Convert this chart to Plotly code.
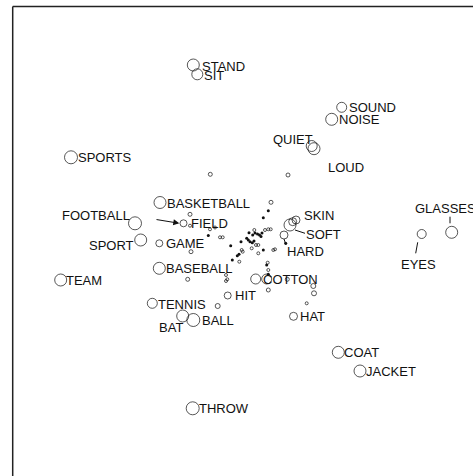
import plotly.graph_objects as go

# Labelled words: position (x, y in map units, y downward), circle weight
words   = ["STAND", "SIT", "SOUND", "NOISE", "QUIET", "LOUD", "SPORTS", "BASKETBALL",
           "FOOTBALL", "FIELD", "SPORT", "GAME", "BASEBALL", "TEAM", "TENNIS", "BAT",
           "BALL", "HIT", "COTTON", "HAT", "COAT", "JACKET", "THROW", "SKIN", "SOFT",
           "HARD", "GLASSES", "EYES"]
word_x  = [193.3, 197.3, 341.7, 331.7, 311.7, 314.0, 71.0, 160.0,
           135.0, 183.5, 140.7, 159.3, 159.3, 60.7, 152.3, 182.7,
           193.3, 227.7, 255.7, 293.5, 338.3, 360.0, 192.7, 296.0, 290.0,
           284.0, 451.7, 421.7]
word_y  = [65.0, 74.3, 107.3, 119.3, 146.0, 148.7, 157.3, 202.5,
           223.3, 223.3, 240.0, 243.3, 268.3, 280.0, 303.3, 316.0,
           320.0, 295.5, 279.0, 316.3, 352.3, 371.0, 408.3, 220.0, 225.0,
           235.0, 232.3, 234.0]
word_w  = [12, 11, 10, 12, 11, 12, 13, 12,
           13, 7, 12, 7, 12, 12, 10, 12,
           13, 7, 10, 8, 12, 12, 13, 8, 12,
           8, 12, 9]

# label placement: x, y, anchor
lab_x   = [200.5, 202.5, 347.5, 337.5, 313.5, 327.0, 76.5, 165.5,
           130.5, 189.5, 134.5, 164.5, 164.5, 64.5, 156.5, 183.5,
           201.0, 233.5, 261.5, 298.5, 342.5, 364.5, 198.0, 303.0, 305.0,
           285.5, 414.0, 418.0]
lab_y   = [66.5, 75.0, 107.5, 119.0, 139.5, 167.0, 157.3, 203.0,
           215.0, 223.3, 245.7, 243.3, 268.3, 280.0, 304.0, 327.3,
           320.0, 295.7, 279.0, 316.0, 352.0, 371.0, 408.0, 215.0, 234.0,
           251.0, 208.3, 264.0]
lab_anchor = ["left", "left", "left", "left", "right", "left", "left", "left",
              "right", "left", "right", "left", "left", "left", "left", "right",
              "left", "left", "left", "left", "left", "left", "left", "left", "left",
              "left", "left", "center"]

# other circles (unlabelled)
extra_x = [292.7, 266.7]
extra_y = [221.7, 279.0]
extra_w = [8, 10]

# small open dots
dot_x = [210.3, 288.0, 190.0, 190.0, 191.0, 187.7, 271.0, 210.0, 215.0, 220.0, 222.7,
         226.0, 227.3, 226.0, 268.3, 267.7, 313.3, 314.0, 268.3, 217.7, 306.7, 287.3,
         273.3, 275.0, 241.7, 242.7, 239.3, 251.7, 256.0, 258.3, 265.0, 268.3, 270.7,
         254.3, 258.3]
dot_y = [174.3, 175.0, 214.3, 225.7, 251.7, 279.3, 202.3, 229.3, 227.5, 237.3, 237.3,
         275.0, 279.3, 281.0, 270.0, 262.7, 286.0, 293.3, 290.0, 306.0, 303.3, 279.3,
         250.0, 249.3, 250.0, 251.7, 261.7, 248.3, 245.0, 245.0, 230.0, 229.3, 229.3,
         230.0, 253.3]
dot_w = [4, 4, 4, 3, 4, 4, 4, 3, 3, 3, 3,
         3, 3, 3, 3, 3, 5, 5, 4, 5, 3, 4,
         3, 3, 3, 3, 3, 3, 3, 3, 3, 3, 3,
         3, 3]

# small filled dots
fdot_x = [268.3, 263.3, 208.3, 230.7, 241.0, 249.0, 252.7, 255.0, 257.5, 259.5, 261.0,
          262.0, 250.0, 252.3, 254.0, 237.3, 239.0, 232.3, 263.3, 266.7, 268.3, 285.7,
          246.7, 248.3]
fdot_y = [210.7, 217.7, 235.5, 245.7, 241.7, 232.7, 235.0, 233.0, 234.0, 235.0, 236.5,
          233.0, 241.7, 242.7, 241.0, 255.7, 254.3, 260.0, 250.0, 265.0, 274.3, 243.3,
          238.3, 240.0]

# connector lines (from, to)
seg_x0 = [295.0, 284.0, 450.0, 417.7]
seg_y0 = [230.0, 239.0, 216.7, 242.3]
seg_x1 = [305.0, 286.0, 450.0, 415.7]
seg_y1 = [233.3, 245.0, 223.3, 253.3]

# arrow (tail -> head)
arrow_tail = (155.0, 219.3)
arrow_head = (179.3, 223.3)

INK = "#111111"
fig = go.Figure()
fig.add_trace(go.Scatter(x=word_x + extra_x, y=word_y + extra_y, mode="markers",
                         marker=dict(symbol="circle-open", size=word_w + extra_w,
                                     color=INK, line=dict(width=1, color=INK)),
                         hoverinfo="skip"))
fig.add_trace(go.Scatter(x=dot_x, y=dot_y, mode="markers",
                         marker=dict(symbol="circle-open", size=dot_w,
                                     color=INK, line=dict(width=1, color=INK)),
                         hoverinfo="skip"))
fig.add_trace(go.Scatter(x=fdot_x, y=fdot_y, mode="markers",
                         marker=dict(symbol="circle", size=3, color=INK,
                                     line=dict(width=0)),
                         hoverinfo="skip"))

for t, lx, ly, a in zip(words, lab_x, lab_y, lab_anchor):
    fig.add_annotation(x=lx, y=ly, text=t, showarrow=False, xanchor=a, yanchor="middle",
                       borderpad=0, font=dict(family="Liberation Sans, Arial", size=13, color=INK))

for x0, y0, x1, y1 in zip(seg_x0, seg_y0, seg_x1, seg_y1):
    fig.add_shape(type="line", xref="x", yref="y", x0=x0, y0=y0, x1=x1, y1=y1,
                  line=dict(color=INK, width=1))

fig.add_annotation(x=arrow_head[0], y=arrow_head[1], ax=arrow_tail[0], ay=arrow_tail[1],
                   axref="x", ayref="y", xref="x", yref="y", text="", showarrow=True,
                   arrowhead=2, arrowsize=1.2, arrowwidth=1, arrowcolor=INK, standoff=0)

# frame (top and left edges visible)
fig.add_shape(type="line", xref="x", yref="y", x0=12.7, y0=6.5, x1=480, y1=6.5,
              line=dict(color="#222222", width=1.5))
fig.add_shape(type="line", xref="x", yref="y", x0=12.7, y0=6.5, x1=12.7, y1=480,
              line=dict(color="#222222", width=1.5))

fig.update_layout(width=473, height=476, margin=dict(l=0, r=0, t=0, b=0),
                  paper_bgcolor="white", plot_bgcolor="white", showlegend=False)
fig.update_xaxes(range=[0, 473], visible=False, fixedrange=True)
fig.update_yaxes(range=[476, 0], visible=False, fixedrange=True)
fig.write_html("out.html")
